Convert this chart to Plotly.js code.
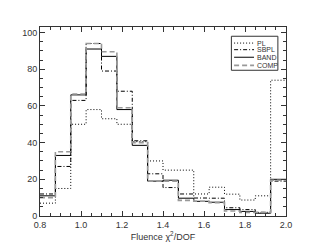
<!DOCTYPE html>
<html><head><meta charset="utf-8">
<script src="https://cdn.plot.ly/plotly-3.0.1.min.js"></script>
<style>html,body{margin:0;padding:0;background:#fff}#c{width:311px;height:249px}</style>
</head><body><div id="c"></div>
<script>
var binEdges = [0.8,0.875,0.95,1.025,1.1,1.175,1.25,1.325,1.4,1.475,1.55,1.625,1.7,1.775,1.85,1.925,2.0];
var PL   = [7, 15, 50, 58, 53, 50, 40.5, 30, 25, 25, 12, 15.7, 11.9, 8.7, 11, 74];
var SBPL = [12, 27, 63, 94, 79, 68, 41, 23, 15.5, 12, 9.8, 9.7, 4.5, 3.5, 2, 19];
var BAND = [11, 33, 66, 91, 87, 58, 38.5, 19, 19.5, 9.7, 8, 7.5, 3.5, 2.5, 1.5, 20];
var COMP = [10, 35, 66.5, 94, 89.5, 59, 40, 19, 19, 8.5, 8, 7.3, 2.7, 2, 2, 19.5];
var names = ['PL','SBPL','BAND','COMP'];
var xTicks = [0.8,1.0,1.2,1.4,1.6,1.8,2.0];
var yTicks = [0,20,40,60,80,100];

function stepY(v){ return v.concat([v[v.length-1]]); }
var styles = [
  {color:'#000', width:1, dash:'1px,2px'},
  {color:'#000', width:1, dash:'4px,2px,1px,2px'},
  {color:'#000', width:1, dash:'solid'},
  {color:'#999', width:1.6, dash:'5px,3px'}
];
var series = [PL, SBPL, BAND, COMP];
var traces = series.map(function(s,i){
  return {x: binEdges, y: stepY(s), type:'scatter', mode:'lines', name:names[i], showlegend:false,
    line:{color:styles[i].color, width:styles[i].width, dash:styles[i].dash, shape:'hv'}};
});

// manual compact legend (paper coordinates)
var legY = [0.915, 0.880, 0.840, 0.797];
var shapes = [{type:'rect', xref:'paper', yref:'paper', x0:0.778, x1:0.967, y0:0.771, y1:0.951,
  line:{color:'#333', width:1}, fillcolor:'#fff', layer:'above'}];
var annotations = [];
names.forEach(function(n,i){
  shapes.push({type:'line', xref:'paper', yref:'paper', x0:0.789, x1:0.870, y0:legY[i], y1:legY[i],
    line:{color:styles[i].color, width:styles[i].width, dash:styles[i].dash}, layer:'above'});
  annotations.push({xref:'paper', yref:'paper', x:0.875, y:legY[i], xanchor:'left', yanchor:'middle',
    text:n, showarrow:false, font:{family:'Liberation Sans, Arial, sans-serif', size:7, color:'#333'}});
});

var font = {family:'Liberation Sans, Arial, sans-serif', size:9, color:'#333'};
var layout = {
  width:311, height:249,
  margin:{l:40, r:25, t:27, b:33},
  paper_bgcolor:'#fff', plot_bgcolor:'#fff',
  font: font,
  showlegend:false,
  shapes: shapes,
  annotations: annotations,
  xaxis:{range:[0.8,2.0], tickvals:xTicks, ticktext:xTicks.map(function(v){return v.toFixed(1);}),
    ticks:'inside', ticklen:5, tickcolor:'#333', showline:true, linecolor:'#333', linewidth:1, mirror:'ticks',
    showgrid:false, zeroline:false,
    minor:{dtick:0.05, tick0:0.8, ticks:'inside', ticklen:3, tickcolor:'#333', showgrid:false},
    title:{text:'Fluence \u03c7<sup>2</sup>/DOF', font:{family:'Liberation Sans, Arial, sans-serif', size:9, color:'#333'}, standoff:4}},
  yaxis:{range:[0,103], tickvals:yTicks, ticks:'inside', ticklen:5, tickcolor:'#333', showline:true, linecolor:'#333', linewidth:1, mirror:'ticks',
    showgrid:false, zeroline:false,
    minor:{dtick:5, tick0:0, ticks:'inside', ticklen:3, tickcolor:'#333', showgrid:false}}
};
Plotly.newPlot('c', traces, layout, {displayModeBar:false, staticPlot:true});
</script></body></html>
